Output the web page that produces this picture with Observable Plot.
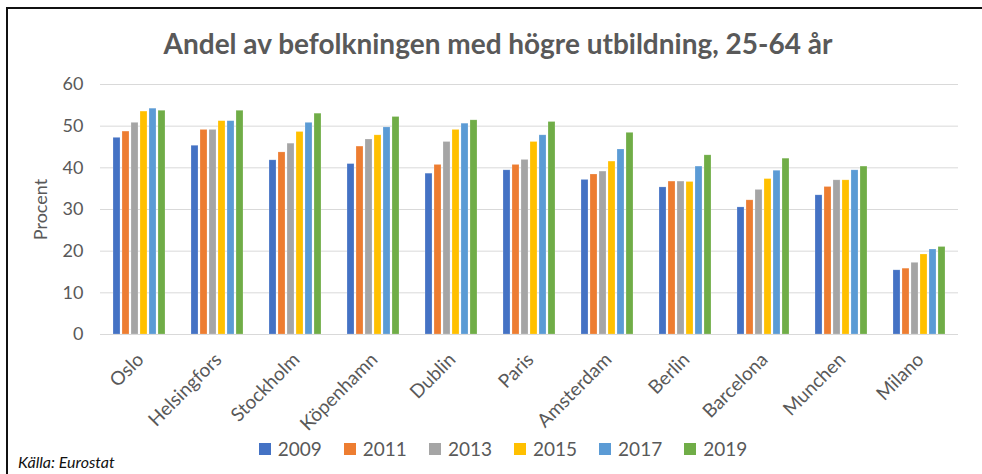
<!DOCTYPE html>
<html>
<head>
<meta charset="utf-8">
<script src="https://cdn.jsdelivr.net/npm/d3@7"></script>
<script src="https://cdn.jsdelivr.net/npm/@observablehq/plot@0.6"></script>
<style>
  html, body { margin: 0; padding: 0; background: #fff; }
  #wrap { position: relative; width: 982px; height: 474px; overflow: hidden; font-family: Lato, "Open Sans", sans-serif; }
  #frame { position: absolute; left: 6px; top: 7px; width: 1000px; height: 500px; border-left: 2px solid #111; border-top: 2px solid #111; box-sizing: border-box; }
  #title { position: absolute; top: 26px; left: 7px; width: 982px; text-align: center; font-weight: 700; font-size: 28px; color: #595959; }
  #chart { position: absolute; left: 0; top: 0; }
  #legend { position: absolute; top: 437px; left: 12px; width: 982px; display: flex; justify-content: center; gap: 22px; color: #595959; font-size: 19px; }
  .item { display: flex; align-items: center; gap: 7px; }
  .sw { width: 12px; height: 12px; display: inline-block; }
  #source { position: absolute; left: 18px; top: 452px; font-style: italic; font-size: 16px; color: #111; }
</style>
</head>
<body>
<div id="wrap">
  <div id="frame"></div>
  <div id="title">Andel av befolkningen med högre utbildning, 25-64 år</div>
  <div id="chart"></div>
  <div id="legend"></div>
  <div id="source">Källa: Eurostat</div>
</div>
<script>
const cities = ["Oslo", "Helsingfors", "Stockholm", "Köpenhamn", "Dublin", "Paris", "Amsterdam", "Berlin", "Barcelona", "Munchen", "Milano"];
const years = ["2009", "2011", "2013", "2015", "2017", "2019"];
const v2009 = [47.2, 45.3, 41.8, 40.9, 38.6, 39.4, 37.1, 35.3, 30.5, 33.4, 15.4];
const v2011 = [48.7, 49.1, 43.7, 45.1, 40.7, 40.7, 38.4, 36.7, 32.2, 35.4, 15.8];
const v2013 = [50.8, 49.1, 45.8, 46.8, 46.2, 41.9, 39.1, 36.7, 34.7, 37.0, 17.2];
const v2015 = [53.5, 51.2, 48.6, 47.8, 49.1, 46.2, 41.5, 36.6, 37.3, 37.0, 19.2];
const v2017 = [54.2, 51.2, 50.8, 49.7, 50.6, 47.8, 44.4, 40.3, 39.3, 39.4, 20.4];
const v2019 = [53.7, 53.7, 53.0, 52.2, 51.4, 51.0, 48.4, 43.0, 42.2, 40.3, 21.0];
const yTicks = [0, 10, 20, 30, 40, 50, 60];
const colors = ["#4472C4", "#ED7D31", "#A5A5A5", "#FFC000", "#5B9BD5", "#70AD47"];

const series = [v2009, v2011, v2013, v2015, v2017, v2019];
const data = [];
cities.forEach((c, i) => years.forEach((y, j) => data.push({city: c, year: y, value: series[j][i]})));

const chart = Plot.plot({
  width: 982,
  height: 474,
  marginTop: 84,
  marginBottom: 140,
  marginLeft: 97,
  marginRight: 22,
  style: {fontFamily: "Lato, 'Open Sans', sans-serif", background: "transparent"},
  fx: {domain: cities, padding: 0, axis: null},
  x: {domain: years, paddingInner: 0.17, paddingOuter: 1.0, axis: null},
  y: {domain: [0, 60], axis: null},
  color: {domain: years, range: colors},
  marks: [
    Plot.gridY(yTicks, {stroke: "#d9d9d9", strokeOpacity: 1, strokeWidth: 1}),
    Plot.barY(data, {fx: "city", x: "year", y: "value", fill: "year", stroke: "#ffffff", strokeOpacity: 0.35, strokeWidth: 0.6}),
    Plot.axisFx({anchor: "bottom", tickRotate: -45, tickSize: 0, tickPadding: 22, dx: 1, fontSize: 19, fill: "#595959", label: null}),
    Plot.axisY(yTicks, {tickSize: 0, tickPadding: 17, fontSize: 18, fill: "#595959", label: "Procent", labelAnchor: "center", labelArrow: "none", labelOffset: 66}),
    Plot.ruleY([0], {stroke: "#d9d9d9", strokeWidth: 1})
  ]
});
document.getElementById("chart").appendChild(chart);

const legend = document.getElementById("legend");
years.forEach((y, i) => {
  const it = document.createElement("div");
  it.className = "item";
  it.innerHTML = `<span class="sw" style="background:${colors[i]}"></span><span>${y}</span>`;
  legend.appendChild(it);
});
</script>
</body>
</html>
